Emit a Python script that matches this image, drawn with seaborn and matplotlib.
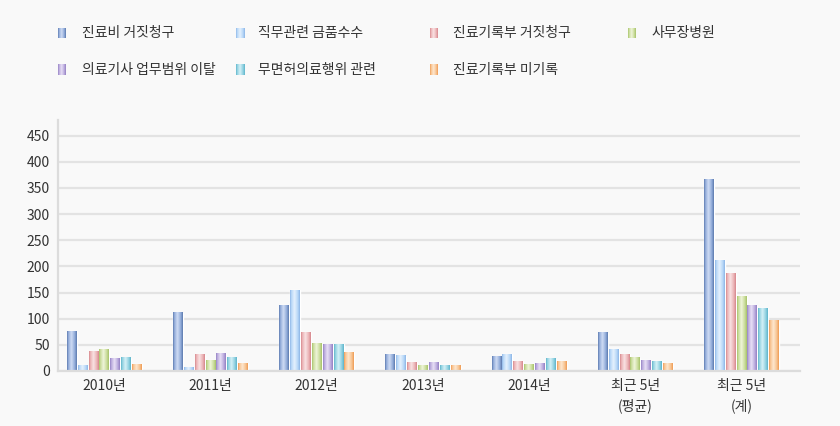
import numpy as np
import pandas as pd
import matplotlib
matplotlib.use("Agg")
import matplotlib.pyplot as plt
import seaborn as sns
from matplotlib.colors import LinearSegmentedColormap

# ---------------- data ----------------
categories = ["2010년", "2011년", "2012년", "2013년", "2014년",
              "최근 5년\n(평균)", "최근 5년\n(계)"]
series = ["진료비 거짓청구", "직무관련 금품수수", "진료기록부 거짓청구", "사무장병원",
          "의료기사 업무범위 이탈", "무면허의료행위 관련", "진료기록부 미기록"]
v_false_claims = [76, 111, 126, 32, 27, 73, 367]
v_bribery = [10, 6, 154, 29, 32, 42, 212]
v_record_false = [38, 31, 74, 17, 19, 32, 187]
v_office_hospital = [42, 21, 53, 10, 13, 25, 143]
v_tech_scope = [23, 34, 51, 17, 15, 21, 126]
v_unlicensed = [25, 25, 51, 11, 23, 19, 120]
v_record_missing = [13, 15, 36, 10, 19, 15, 96]
yticks = [0, 50, 100, 150, 200, 250, 300, 350, 400, 450]

values = [v_false_claims, v_bribery, v_record_false, v_office_hospital,
          v_tech_scope, v_unlicensed, v_record_missing]

# ---------------- styles ----------------
dark = ["#5b79ad", "#8cb5e6", "#d6868b", "#a6c26a", "#937fc2", "#5db4c9", "#ef9a52"]
base = ["#8fa9d8", "#b6d6f7", "#eab1b4", "#c8db98", "#b9a9dc", "#8fd0e0", "#f7c28f"]
light = ["#cfdcf4", "#e5f1fd", "#f9e2e3", "#eff5da", "#e8e0f6", "#d5f1f7", "#fee7cf"]

rows = []
for s, vals in zip(series, values):
    for c, v in zip(categories, vals):
        rows.append({"category": c, "series": s, "value": v})
df = pd.DataFrame(rows)

sns.set_style("white")
plt.rcParams['font.family'] = ['Noto Sans CJK KR', 'DejaVu Sans']

W, H = 840, 426
fig = plt.figure(figsize=(W / 100, H / 100), dpi=100)
fig.patch.set_facecolor("#f9f9f9")
ax = fig.add_axes([58 / W, 1 - 371 / H, 742 / W, 251 / H])
ax.set_facecolor("#f9f9f9")

sns.barplot(data=df, x="category", y="value", hue="series", order=categories,
            hue_order=series, palette=base, saturation=1, width=0.716, gap=0.08,
            legend=False, ax=ax, errorbar=None)

grad = np.linspace(0, 1, 64).reshape(1, -1)
cmaps = []
for j in range(len(series)):
    cm = LinearSegmentedColormap.from_list(
        f"g{j}", [(0, dark[j]), (0.12, base[j]), (0.45, light[j]), (0.8, base[j]), (1, dark[j])])
    cmaps.append(cm)

for j, cont in enumerate(ax.containers):
    for bar in cont:
        x, w, h = bar.get_x(), bar.get_width(), bar.get_height()
        ax.imshow(grad, cmap=cmaps[j], extent=(x, x + w, 0, h), aspect='auto',
                  interpolation='bilinear', origin='lower', zorder=bar.get_zorder() + 0.1)

ax.set_xlim(-0.437, 6.55)
ax.set_ylim(0, 480)
ax.set_yticks(yticks)
ax.set_xticks(range(len(categories)))
ax.set_xticklabels(categories)
for lab in ax.get_xticklabels():
    lab.set_linespacing(1.45)
ax.set_xticks([i + 0.5 for i in range(6)], minor=True)
ax.set_xlabel("")
ax.set_ylabel("")

ax.yaxis.grid(True, color="#e3e3e3", lw=1.6)
ax.set_axisbelow(True)
for s in ["top", "right"]:
    ax.spines[s].set_visible(False)
for s in ["left", "bottom"]:
    ax.spines[s].set_color("#dcdcdc")
    ax.spines[s].set_linewidth(1.6)
ax.tick_params(axis="y", length=3, width=1.6, color="#dcdcdc", labelsize=10,
               labelcolor="#333333", pad=3)
ax.tick_params(axis="x", which="major", length=0, labelsize=10, labelcolor="#333333", pad=6)
ax.tick_params(axis="x", which="minor", length=5, width=2, color="#dcdcdc", direction="out")

# ---------------- legend ----------------
marker_x = [58, 236, 430, 628]
text_x = [82, 258, 453, 652]
row_y = [33, 70]
for k, name in enumerate(series):
    r, c = divmod(k, 4)
    yc = row_y[r]
    max_ = fig.add_axes([marker_x[c] / W, 1 - (yc + 5.5) / H, 8 / W, 11 / H])
    max_.imshow(grad, cmap=cmaps[k], aspect='auto', interpolation='bilinear')
    max_.axis("off")
    fig.text(text_x[c] / W, 1 - yc / H, name, ha="left", va="center",
             fontsize=10, color="#333333")

fig.savefig("out.png", dpi=100, facecolor=fig.get_facecolor())
